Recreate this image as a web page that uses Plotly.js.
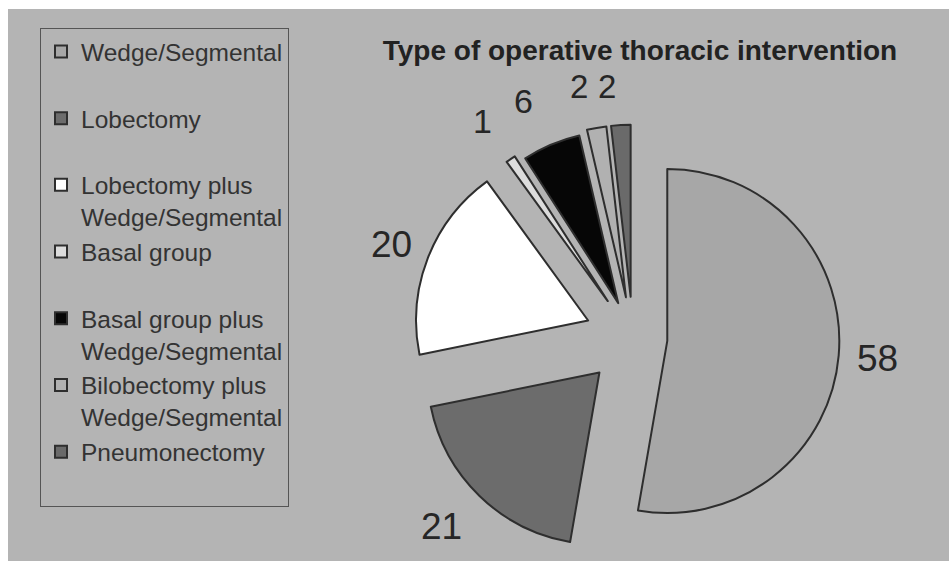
<!DOCTYPE html>
<html>
<head>
<meta charset="utf-8">
<script src="https://cdn.plot.ly/plotly-3.0.1.min.js"></script>
<style>
html,body{margin:0;padding:0;background:#ffffff;overflow:hidden;}
#chart{width:949px;height:561px;}
</style>
</head>
<body>
<div id="chart"></div>
<script>
// Data
const categories = [
  "Wedge/Segmental",
  "Lobectomy",
  "Lobectomy plus Wedge/Segmental",
  "Basal group",
  "Basal group plus Wedge/Segmental",
  "Bilobectomy plus Wedge/Segmental",
  "Pneumonectomy"
];
const counts = [58, 21, 20, 1, 6, 2, 2];
const sliceColors = ["#a7a7a7", "#6c6c6c", "#ffffff", "#dcdcdc", "#060606", "#b1b1b1", "#6a6a6a"];
const pulls = [0.2, 0.28, 0.28, 0.26, 0.22, 0.24, 0.24];
const chartTitle = "Type of operative thoracic intervention";

// legend labels: every entry occupies two lines as in the reference
const legendLabels = categories.map(c =>
  c.indexOf(" plus ") >= 0 ? c.replace(" plus ", " plus<br>") : c + "<br>&nbsp;"
);

const W = 949, H = 561;
const labelFamily = "Liberation Sans, Arial, sans-serif";

// value labels placed beside their slices as in the reference (pixel centres)
const labelPos = [[877, 358], [441, 526], [391, 244], [482, 121], [523, 101], [579, 87], [607, 87]];
const labelSize = [37, 37, 37, 34, 34, 33, 33];

const trace = {
  type: "pie",
  labels: legendLabels,
  values: counts,
  sort: false,
  direction: "clockwise",
  rotation: 0,
  pull: pulls,
  marker: {colors: sliceColors, line: {color: "#2e2e2e", width: 2}},
  textinfo: "none",
  domain: {x: [412.8 / W, 853.2 / W], y: [1 - 558.2 / H, 1 - 117.8 / H]},
  hoverinfo: "label+value"
};

const annotations = counts.map((v, i) => ({
  text: String(v),
  xref: "paper", yref: "paper",
  x: labelPos[i][0] / W, y: 1 - labelPos[i][1] / H,
  xanchor: "center", yanchor: "middle",
  showarrow: false,
  font: {family: labelFamily, size: labelSize[i], color: "#262626"}
}));

const layout = {
  width: W, height: H,
  margin: {l: 0, r: 0, t: 0, b: 0},
  paper_bgcolor: "#ffffff",
  shapes: [{
    type: "rect", xref: "paper", yref: "paper",
    x0: 8 / W, x1: 1, y0: 0, y1: 1 - 9 / H,
    fillcolor: "#b4b4b4", line: {width: 0}, layer: "below"
  }],
  annotations: annotations,
  title: {
    text: chartTitle,
    x: 640 / W, xanchor: "center", xref: "paper",
    y: 1 - 50 / H, yanchor: "middle", yref: "paper",
    font: {family: labelFamily, size: 28, weight: "bold", color: "#222222"}
  },
  showlegend: true,
  legend: {
    x: 40 / W, y: 1 - 28 / H, xanchor: "left", yanchor: "top",
    bgcolor: "rgba(0,0,0,0)", bordercolor: "#555555", borderwidth: 1,
    valign: "top", traceorder: "normal",
    font: {family: labelFamily, size: 24.5, color: "#333333"}
  },
  font: {family: labelFamily}
};

Plotly.newPlot("chart", [trace], layout, {displayModeBar: false, staticPlot: true});
</script>
</body>
</html>
